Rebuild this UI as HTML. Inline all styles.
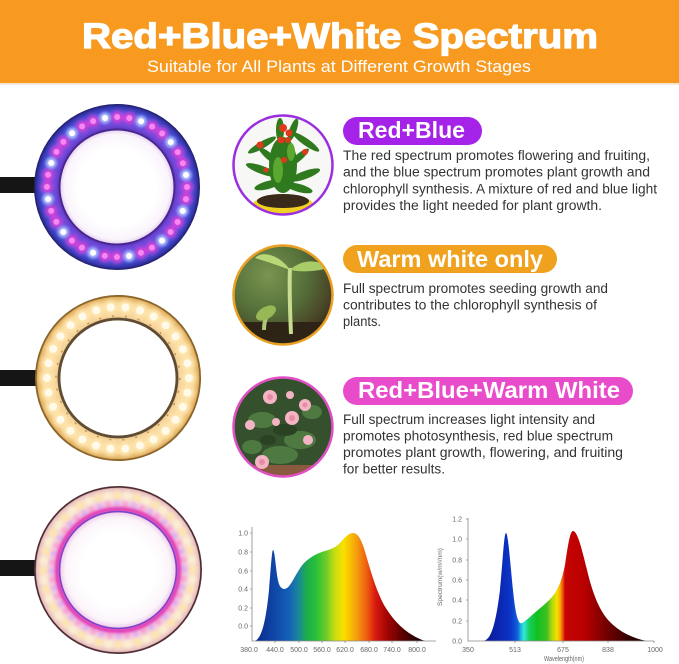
<!DOCTYPE html>
<html><head><meta charset="utf-8"><style>
html,body{margin:0;padding:0;background:#fff;}
svg{display:block;}
text{font-family:"Liberation Sans",Arial,sans-serif;}
</style></head><body>
<svg width="679" height="664" viewBox="0 0 679 664" xmlns="http://www.w3.org/2000/svg">
<defs>
<filter id="bl1" x="-20%" y="-20%" width="140%" height="140%"><feGaussianBlur stdDeviation="1.6"/></filter>
<filter id="bl2" x="-20%" y="-20%" width="140%" height="140%"><feGaussianBlur stdDeviation="2.5"/></filter>
<radialGradient id="r1band" gradientUnits="userSpaceOnUse" cx="117" cy="187" r="83">
<stop offset="0.66" stop-color="#5a2aa8"/><stop offset="0.74" stop-color="#6a48d8"/><stop offset="0.88" stop-color="#4a58e6"/><stop offset="0.96" stop-color="#3438b0"/><stop offset="1" stop-color="#231c66"/></radialGradient>
<radialGradient id="r1in" gradientUnits="userSpaceOnUse" cx="117" cy="187" r="56">
<stop offset="0.7" stop-color="#ffffff"/><stop offset="0.94" stop-color="#faf4fc"/><stop offset="1" stop-color="#ead8f2"/></radialGradient>
<radialGradient id="r2band" gradientUnits="userSpaceOnUse" cx="118" cy="378" r="83">
<stop offset="0.68" stop-color="#dcb070"/><stop offset="0.75" stop-color="#f6d49a"/><stop offset="0.9" stop-color="#f7d496"/><stop offset="0.97" stop-color="#e2b060"/><stop offset="1" stop-color="#7a5420"/></radialGradient>
<radialGradient id="r3band" gradientUnits="userSpaceOnUse" cx="118" cy="570" r="84">
<stop offset="0.67" stop-color="#e070c8"/><stop offset="0.76" stop-color="#f4cce0"/><stop offset="0.9" stop-color="#f8e0d4"/><stop offset="0.97" stop-color="#e8c0c0"/><stop offset="1" stop-color="#5a3038"/></radialGradient>
<radialGradient id="r3in" gradientUnits="userSpaceOnUse" cx="118" cy="570" r="57">
<stop offset="0.65" stop-color="#ffffff"/><stop offset="0.92" stop-color="#fbf4fa"/><stop offset="1" stop-color="#f0d6ee"/></radialGradient>
<linearGradient id="spec1" gradientUnits="userSpaceOnUse" x1="255" y1="0" x2="425" y2="0">
<stop offset="0" stop-color="#0a2a8a"/><stop offset="0.12" stop-color="#1048a8"/><stop offset="0.2" stop-color="#1460b8"/><stop offset="0.26" stop-color="#1a8a98"/><stop offset="0.3" stop-color="#1eaa50"/><stop offset="0.36" stop-color="#28c038"/><stop offset="0.42" stop-color="#70cc28"/><stop offset="0.47" stop-color="#c8dc10"/><stop offset="0.52" stop-color="#f8e000"/><stop offset="0.56" stop-color="#f8c000"/><stop offset="0.6" stop-color="#f59a10"/><stop offset="0.66" stop-color="#ee5a10"/><stop offset="0.71" stop-color="#d81810"/><stop offset="0.78" stop-color="#a00404"/><stop offset="0.86" stop-color="#600000"/><stop offset="0.95" stop-color="#280000"/><stop offset="1" stop-color="#100000"/></linearGradient>
<linearGradient id="spec2" gradientUnits="userSpaceOnUse" x1="483" y1="0" x2="647" y2="0">
<stop offset="0" stop-color="#0a1890"/><stop offset="0.1" stop-color="#0a26b0"/><stop offset="0.17" stop-color="#0c36c8"/><stop offset="0.21" stop-color="#1060d8"/><stop offset="0.23" stop-color="#20b0e0"/><stop offset="0.25" stop-color="#30e8d8"/><stop offset="0.28" stop-color="#18d060"/><stop offset="0.33" stop-color="#10c020"/><stop offset="0.39" stop-color="#40c020"/><stop offset="0.42" stop-color="#b0d810"/><stop offset="0.45" stop-color="#f4e000"/><stop offset="0.47" stop-color="#f8b000"/><stop offset="0.49" stop-color="#e84010"/><stop offset="0.5" stop-color="#c80404"/><stop offset="0.62" stop-color="#b80000"/><stop offset="0.76" stop-color="#700000"/><stop offset="0.9" stop-color="#300000"/><stop offset="1" stop-color="#100000"/></linearGradient>
<radialGradient id="seedbg" cx="0.35" cy="0.3" r="0.85">
<stop offset="0" stop-color="#7a9450"/><stop offset="0.45" stop-color="#55703a"/><stop offset="0.75" stop-color="#4a4528"/><stop offset="1" stop-color="#2a1e12"/></radialGradient>
<clipPath id="c1"><circle cx="283" cy="165" r="49"/></clipPath>
<clipPath id="c2"><circle cx="283" cy="295" r="49"/></clipPath>
<clipPath id="c3"><circle cx="283" cy="427" r="49"/></clipPath>
</defs>

<!-- Header -->
<rect x="0" y="0" width="679" height="84" fill="#F89A1F"/>
<rect x="0" y="83" width="679" height="2" fill="#f4e6d4"/>
<text x="82" y="48" font-size="35" font-weight="bold" fill="#fff" stroke="#fff" stroke-width="1.2" textLength="516" lengthAdjust="spacingAndGlyphs">Red+Blue+White Spectrum</text>
<text x="147" y="72" font-size="17" fill="#fff" textLength="384" lengthAdjust="spacingAndGlyphs">Suitable for All Plants at Different Growth Stages</text>

<!-- Cables -->
<rect x="0" y="177" width="38" height="16" fill="#151515"/>
<rect x="0" y="370" width="38" height="16" fill="#151515"/>
<rect x="0" y="560" width="38" height="16" fill="#151515"/>

<!-- Ring 1 -->
<circle cx="117" cy="187" r="83" fill="url(#r1band)"/>
<circle cx="117" cy="187" r="70" fill="none" stroke="#e040d8" stroke-width="12" stroke-dasharray="0 12.217 0 24.434" stroke-linecap="round" filter="url(#bl2)"/>
<circle cx="117" cy="187" r="70" fill="none" stroke="#f488f0" stroke-width="6" stroke-dasharray="0 12.217 0 24.434" stroke-linecap="round"/>
<circle cx="117" cy="187" r="70" fill="none" stroke="#b8c4ff" stroke-width="11" stroke-dasharray="0 36.65" stroke-dashoffset="-24.434" stroke-linecap="round" filter="url(#bl1)"/>
<circle cx="117" cy="187" r="70" fill="none" stroke="#ffffff" stroke-width="6" stroke-dasharray="0 36.65" stroke-dashoffset="-24.434" stroke-linecap="round"/>
<circle cx="117" cy="187" r="57.5" fill="none" stroke="#4a2690" stroke-width="2"/>
<circle cx="117" cy="187" r="56.5" fill="url(#r1in)"/>

<!-- Ring 2 -->
<circle cx="118" cy="378" r="83" fill="url(#r2band)"/>
<circle cx="118" cy="378" r="82" fill="none" stroke="#8a6428" stroke-width="1.4"/>
<circle cx="118" cy="378" r="71" fill="none" stroke="#ffe8b0" stroke-width="14" stroke-dasharray="0 14.87" stroke-linecap="round" filter="url(#bl2)"/>
<circle cx="118" cy="378" r="71" fill="none" stroke="#fffaea" stroke-width="8" stroke-dasharray="0 14.87" stroke-linecap="round"/>
<circle cx="118" cy="378" r="62" fill="none" stroke="#b07830" stroke-width="1.5" stroke-dasharray="2 11" opacity="0.7"/>
<circle cx="118" cy="378" r="59" fill="none" stroke="#5e4c36" stroke-width="2.8"/>
<circle cx="118" cy="378" r="57.5" fill="#ffffff"/>

<!-- Ring 3 -->
<circle cx="118" cy="570" r="84" fill="url(#r3band)"/>
<circle cx="118" cy="570" r="83" fill="none" stroke="#4a2a30" stroke-width="1.3"/>
<circle cx="118" cy="570" r="74.5" fill="none" stroke="#fde4b0" stroke-width="9" stroke-dasharray="0 19.47" stroke-linecap="round" filter="url(#bl1)"/>
<circle cx="118" cy="570" r="74.5" fill="none" stroke="#fbeed0" stroke-width="9" stroke-dasharray="0 19.47" stroke-dashoffset="-9.73" stroke-linecap="round" filter="url(#bl1)"/>
<circle cx="118" cy="570" r="66" fill="none" stroke="#e0b0f0" stroke-width="7" stroke-dasharray="0 17.2" stroke-linecap="round" filter="url(#bl1)"/>
<circle cx="118" cy="570" r="66" fill="none" stroke="#f6a4d4" stroke-width="7" stroke-dasharray="0 17.2" stroke-dashoffset="-8.6" stroke-linecap="round" filter="url(#bl1)"/>
<circle cx="118" cy="570" r="61" fill="none" stroke="#e02ab0" stroke-width="4" filter="url(#bl1)"/>
<circle cx="118" cy="570" r="58.5" fill="none" stroke="#5a3ed0" stroke-width="1.5" opacity="0.8"/>
<circle cx="118" cy="570" r="57.5" fill="url(#r3in)"/>

<!-- Plant image 1 -->
<g clip-path="url(#c1)">
<rect x="233" y="115" width="100" height="100" fill="#f7f7f6"/>
<ellipse cx="283" cy="205" rx="30" ry="11" fill="#f0d020"/>
<ellipse cx="283" cy="201" rx="26" ry="7" fill="#3a2a1a"/>
<g fill="#2f7a1e">
<ellipse cx="283" cy="165" rx="14" ry="28"/>
<ellipse cx="262" cy="145" rx="16" ry="3.5" transform="rotate(-30 262 145)"/>
<ellipse cx="306" cy="142" rx="16" ry="3.5" transform="rotate(35 306 142)"/>
<ellipse cx="262" cy="170" rx="17" ry="4" transform="rotate(20 262 170)"/>
<ellipse cx="305" cy="175" rx="16" ry="4" transform="rotate(-20 305 175)"/>
<ellipse cx="268" cy="185" rx="14" ry="4" transform="rotate(-15 268 185)"/>
<ellipse cx="299" cy="188" rx="14" ry="4" transform="rotate(15 299 188)"/>
<ellipse cx="280" cy="130" rx="4" ry="12"/>
<ellipse cx="293" cy="130" rx="3.5" ry="12" transform="rotate(20 293 130)"/>
<ellipse cx="270" cy="157" rx="14" ry="3.5" transform="rotate(40 270 157)"/>
<ellipse cx="298" cy="158" rx="14" ry="3.5" transform="rotate(-40 298 158)"/>
</g>
<g fill="#5aa830"><ellipse cx="278" cy="170" rx="5" ry="13"/><ellipse cx="291" cy="152" rx="4" ry="9"/></g>
<g fill="#e0381a"><circle cx="283" cy="128" r="4"/><circle cx="289" cy="133" r="3.5"/><circle cx="281" cy="140" r="3.5"/><circle cx="260" cy="145" r="3.5"/><circle cx="305" cy="152" r="3"/><circle cx="284" cy="160" r="3"/><circle cx="288" cy="140" r="3"/><circle cx="266" cy="170" r="2.5"/></g>
</g>
<circle cx="283" cy="165" r="49.5" fill="none" stroke="#9b2fe0" stroke-width="2.5"/>

<!-- Plant image 2 -->
<g clip-path="url(#c2)">
<rect x="233" y="245" width="100" height="100" fill="url(#seedbg)"/>
<rect x="233" y="322" width="100" height="25" fill="#2e2416"/>
<path d="M291 334 C 290 310 289 290 290 268" stroke="#c8dc90" stroke-width="4" fill="none"/>
<path d="M290 270 C 280 255 262 250 255 258 C 268 262 280 266 290 270 Z" fill="#b8d878"/>
<path d="M290 270 C 300 260 318 258 328 268 C 315 272 300 272 290 270 Z" fill="#a8cc68"/>
<path d="M264 330 C 264 318 268 312 275 310" stroke="#b0c878" stroke-width="4" fill="none"/>
<ellipse cx="266" cy="313" rx="11" ry="6" transform="rotate(-30 266 313)" fill="#98b858"/>
</g>
<circle cx="283" cy="295" r="49.5" fill="none" stroke="#eaa024" stroke-width="2.5"/>

<!-- Plant image 3 -->
<g clip-path="url(#c3)">
<rect x="233" y="377" width="100" height="100" fill="#34502c"/>
<g fill="#4e7a42"><ellipse cx="262" cy="420" rx="14" ry="8"/><ellipse cx="300" cy="440" rx="16" ry="9"/><ellipse cx="280" cy="455" rx="18" ry="9"/><ellipse cx="312" cy="412" rx="10" ry="7"/><ellipse cx="252" cy="447" rx="10" ry="7"/></g>
<g fill="#2a4224"><ellipse cx="285" cy="430" rx="12" ry="6"/><ellipse cx="268" cy="440" rx="8" ry="5"/></g>
<rect x="233" y="465" width="100" height="15" fill="#8a5a40"/>
<g fill="#f4b4c4"><circle cx="270" cy="397" r="7"/><circle cx="292" cy="418" r="7"/><circle cx="305" cy="405" r="6"/><circle cx="262" cy="462" r="7"/><circle cx="250" cy="425" r="5"/><circle cx="308" cy="440" r="5"/><circle cx="276" cy="422" r="4"/><circle cx="290" cy="395" r="4"/></g>
<g fill="#e48ca4"><circle cx="270" cy="397" r="3"/><circle cx="292" cy="418" r="3"/><circle cx="305" cy="405" r="2.5"/><circle cx="262" cy="462" r="3"/></g>
</g>
<circle cx="283" cy="427" r="49.5" fill="none" stroke="#e050c4" stroke-width="2.5"/>

<!-- Pills -->
<rect x="343" y="117" width="139" height="28" rx="14" fill="#A523E8"/>
<text x="358" y="138" font-size="23" font-weight="bold" fill="#fff" textLength="107" lengthAdjust="spacingAndGlyphs">Red+Blue</text>
<rect x="343" y="245" width="214" height="28" rx="14" fill="#F0A21E"/>
<text x="357" y="267" font-size="23" font-weight="bold" fill="#fff" textLength="186" lengthAdjust="spacingAndGlyphs">Warm white only</text>
<rect x="343" y="377" width="290" height="28" rx="14" fill="#E94CCB"/>
<text x="358" y="398" font-size="23" font-weight="bold" fill="#fff" textLength="262" lengthAdjust="spacingAndGlyphs">Red+Blue+Warm White</text>

<!-- Body text -->
<g font-size="13.5" fill="#333">
<text x="343" y="160" textLength="307" lengthAdjust="spacingAndGlyphs">The red spectrum promotes flowering and fruiting,</text>
<text x="343" y="176.7" textLength="307" lengthAdjust="spacingAndGlyphs">and the blue spectrum promotes plant growth and</text>
<text x="343" y="193.4" textLength="314" lengthAdjust="spacingAndGlyphs">chlorophyll synthesis. A mixture of red and blue light</text>
<text x="343" y="210" textLength="259" lengthAdjust="spacingAndGlyphs">provides the light needed for plant growth.</text>
<text x="343" y="293" textLength="265" lengthAdjust="spacingAndGlyphs">Full spectrum promotes seeding growth and</text>
<text x="343" y="309.5" textLength="254" lengthAdjust="spacingAndGlyphs">contributes to the chlorophyll synthesis of</text>
<text x="343" y="326" textLength="38" lengthAdjust="spacingAndGlyphs">plants.</text>
<text x="343" y="424" textLength="252" lengthAdjust="spacingAndGlyphs">Full spectrum increases light intensity and</text>
<text x="343" y="440.5" textLength="270" lengthAdjust="spacingAndGlyphs">promotes photosynthesis, red blue spectrum</text>
<text x="343" y="457" textLength="280" lengthAdjust="spacingAndGlyphs">promotes plant growth, flowering, and fruiting</text>
<text x="343" y="473.5" textLength="102" lengthAdjust="spacingAndGlyphs">for better results.</text>
</g>

<!-- Chart 1 -->
<path d="M255,641 C262,638 266,620 269,590 C271,565 272,550 273,550 C275,550 276,575 279,584 C281,589 284,590 287,588 C292,585 297,570 305,562 C312,556 318,553 325,551 C332,549 336,547 340,543 C345,537 349,533 353,533 C358,533 362,540 366,555 C371,572 376,590 384,605 C393,620 405,634 425,641 Z" fill="url(#spec1)"/>
<g stroke="#8a8a8a" stroke-width="0.8" fill="none">
<path d="M252,527 V641 H436"/>
<path d="M250,533 H252 M250,552 H252 M250,571 H252 M250,589 H252 M250,608 H252 M250,626 H252"/>
<path d="M275,641 V643 M299,641 V643 M322,641 V643 M345,641 V643 M369,641 V643 M392,641 V643 M417,641 V643"/>
</g>
<g font-size="7" fill="#666" text-anchor="end">
<text x="248" y="535.5">1.0</text><text x="248" y="554.5">0.8</text><text x="248" y="573.5">0.6</text><text x="248" y="591.5">0.4</text><text x="248" y="610.5">0.2</text><text x="248" y="628.5">0.0</text>
</g>
<g font-size="7" fill="#666" text-anchor="middle">
<text x="249" y="652">380.0</text><text x="275" y="652">440.0</text><text x="299" y="652">500.0</text><text x="322" y="652">560.0</text><text x="345" y="652">620.0</text><text x="369" y="652">680.0</text><text x="392" y="652">740.0</text><text x="417" y="652">800.0</text>
</g>

<!-- Chart 2 -->
<path d="M483,641 C490,640 495,630 500,590 C503,560 504,533 506,533 C508,533 510,560 513,590 C515,610 517,620 520,623 C522,624 525,621 530,617 C536,611 545,605 552,597 C558,590 562,580 565,565 C568,545 570,531 573,531 C577,531 581,545 587,570 C593,595 600,612 610,622 C620,632 632,638 647,641 Z" fill="url(#spec2)"/>
<g stroke="#8a8a8a" stroke-width="0.8" fill="none">
<path d="M468,518 V641 H654"/>
<path d="M466,519 H468 M466,539 H468 M466,560 H468 M466,580 H468 M466,600 H468 M466,621 H468"/>
<path d="M515,641 V643 M563,641 V643 M608,641 V643 M654,641 V643"/>
</g>
<g font-size="7" fill="#666" text-anchor="end">
<text x="462" y="521.5">1.2</text><text x="462" y="541.5">1.0</text><text x="462" y="562.5">0.8</text><text x="462" y="582.5">0.6</text><text x="462" y="602.5">0.4</text><text x="462" y="623.5">0.2</text><text x="462" y="643.5">0.0</text>
</g>
<g font-size="7" fill="#666" text-anchor="middle">
<text x="468" y="652">350</text><text x="515" y="652">513</text><text x="563" y="652">675</text><text x="608" y="652">838</text><text x="655" y="652">1000</text>
<text x="564" y="661" textLength="40" lengthAdjust="spacingAndGlyphs">Wavelength(nm)</text>
<text x="0" y="0" transform="translate(442 577) rotate(-90)" font-size="6.5" textLength="58" lengthAdjust="spacingAndGlyphs">Spectrum(w/m²/nm)</text>
</g>
</svg>
</body></html>
